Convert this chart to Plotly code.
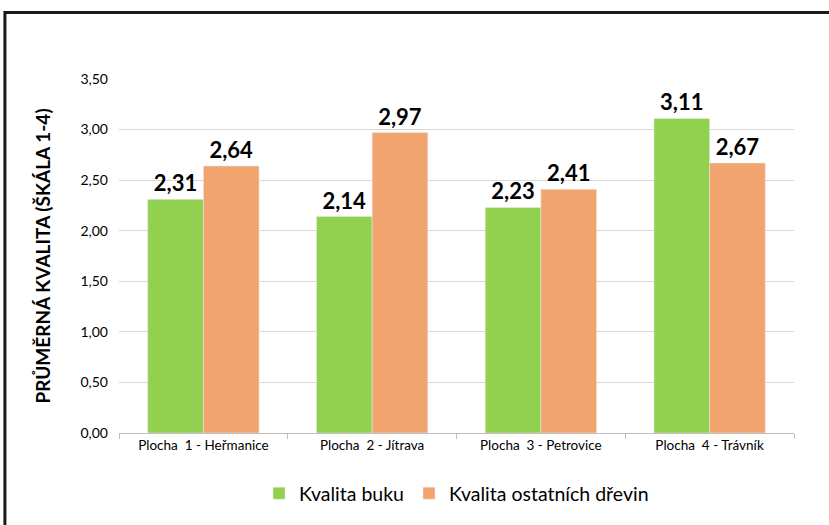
import plotly.graph_objects as go

plochy = ["Plocha  1 - Heřmanice", "Plocha  2 - Jítrava", "Plocha  3 - Petrovice", "Plocha  4 - Trávník"]
kvalita_buku = [2.31, 2.14, 2.23, 3.11]
kvalita_ostatnich = [2.64, 2.97, 2.41, 2.67]

FONT = "Lato"

fig = go.Figure()

fig.add_trace(go.Bar(
    x=plochy, y=kvalita_buku, name="Kvalita buku",
    marker_color="#92D050",
    text=[f"{v:.2f}".replace(".", ",") for v in kvalita_buku],
    textposition="outside", cliponaxis=False,
    textfont=dict(family=FONT, size=22, color="black", weight="bold"),
))
fig.add_trace(go.Bar(
    x=plochy, y=kvalita_ostatnich, name="Kvalita ostatních dřevin",
    marker_color="#F2A46E",
    text=[f"{v:.2f}".replace(".", ",") for v in kvalita_ostatnich],
    textposition="outside", cliponaxis=False,
    textfont=dict(family=FONT, size=22, color="black", weight="bold"),
))

fig.update_layout(
    width=829, height=525,
    margin=dict(l=119, r=35, t=79, b=90),
    paper_bgcolor="white", plot_bgcolor="white",
    separators=", ",
    barmode="group", bargap=0.34, bargroupgap=0,
    font=dict(family=FONT, color="black"),
    legend=dict(
        orientation="h", x=0.5, xanchor="center", y=-0.171, yanchor="middle",
        font=dict(size=19.5, family=FONT), itemwidth=30, traceorder="normal",
    ),
    xaxis=dict(
        showline=True, linecolor="#BFBFBF", linewidth=1,
        ticks="outside", tickson="boundaries", tickcolor="#BFBFBF", ticklen=5,
        tickfont=dict(size=13.5, family=FONT),
    ),
    yaxis=dict(
        range=[0, 3.5], dtick=0.5, tickformat=".2f",
        showgrid=True, gridcolor="#D9D9D9", gridwidth=1,
        zeroline=False, ticklabelstandoff=10,
        tickfont=dict(size=14, family=FONT),
        title=dict(text="PRŮMĚRNÁ KVALITA (ŠKÁLA 1-4)", standoff=24,
                   font=dict(size=19, family=FONT, weight="bold")),
    ),
    shapes=[dict(
        type="rect", xref="paper", yref="paper",
        x0=-0.169, x1=1.06, y0=-0.27, y1=1.188,
        line=dict(color="#1a1a1a", width=3), layer="below",
    )],
)

fig.write_html("out.html", config={"displayModeBar": False},
               post_script="document.body.style.margin='0';")
